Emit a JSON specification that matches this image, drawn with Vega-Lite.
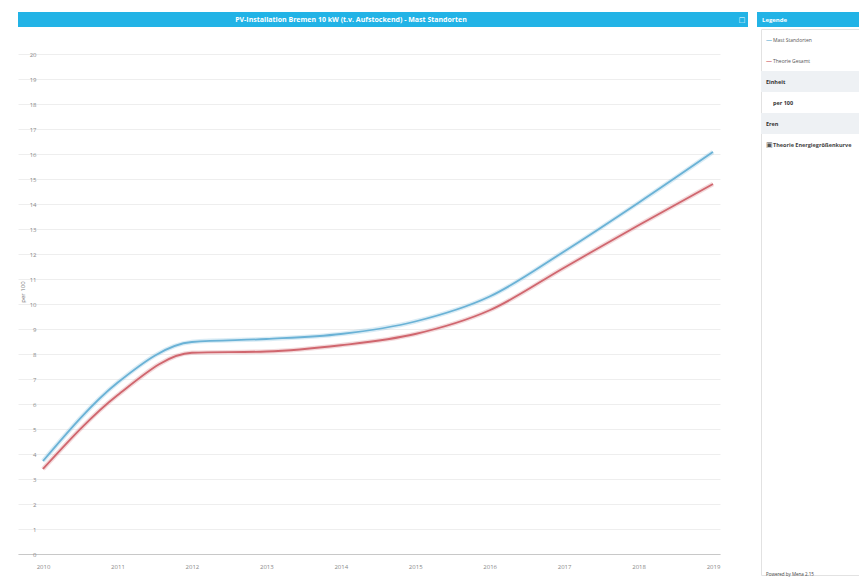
{
  "$schema": "https://vega.github.io/schema/vega-lite/v6.json",
  "padding": {"left": 18, "top": 12, "right": 0, "bottom": 0},
  "background": "white",
  "config": {"font": "Open Sans", "view": {"stroke": null}},
  "datasets": {
    "series": [
      {"year": 2010, "series": "Mast Standorten", "value": 3.72},
      {"year": 2011, "series": "Mast Standorten", "value": 6.85},
      {"year": 2012, "series": "Mast Standorten", "value": 8.48},
      {"year": 2013, "series": "Mast Standorten", "value": 8.6},
      {"year": 2014, "series": "Mast Standorten", "value": 8.8},
      {"year": 2015, "series": "Mast Standorten", "value": 9.3},
      {"year": 2016, "series": "Mast Standorten", "value": 10.3},
      {"year": 2017, "series": "Mast Standorten", "value": 12.1},
      {"year": 2018, "series": "Mast Standorten", "value": 14.05},
      {"year": 2019, "series": "Mast Standorten", "value": 16.08},
      {"year": 2010, "series": "Theorie Gesamt", "value": 3.4},
      {"year": 2011, "series": "Theorie Gesamt", "value": 6.35},
      {"year": 2012, "series": "Theorie Gesamt", "value": 8.05},
      {"year": 2013, "series": "Theorie Gesamt", "value": 8.1},
      {"year": 2014, "series": "Theorie Gesamt", "value": 8.35},
      {"year": 2015, "series": "Theorie Gesamt", "value": 8.8},
      {"year": 2016, "series": "Theorie Gesamt", "value": 9.75},
      {"year": 2017, "series": "Theorie Gesamt", "value": 11.45},
      {"year": 2018, "series": "Theorie Gesamt", "value": 13.15},
      {"year": 2019, "series": "Theorie Gesamt", "value": 14.8}
    ],
    "legendRows": [
      {"row": 1, "kind": "series", "glyph": "—", "label": "Mast Standorten"},
      {"row": 2, "kind": "series", "glyph": "—", "label": "Theorie Gesamt"},
      {"row": 3, "kind": "section", "glyph": "", "label": "Einheit"},
      {"row": 4, "kind": "value", "glyph": "", "label": "per 100"},
      {"row": 5, "kind": "section", "glyph": "", "label": "Eren"},
      {"row": 6, "kind": "check", "glyph": "▣", "label": "Theorie Energiegrößenkurve"},
      {"row": 26, "kind": "foot", "glyph": "", "label": "Powered by Mena 2.15"}
    ]
  },
  "spacing": 1,
  "vconcat": [
    {
      "spacing": 9,
      "hconcat": [
        {
          "width": 730,
          "height": 15,
          "view": {"fill": "#22b3e6", "stroke": null},
          "data": {"values": [{"t": "PV-Installation Bremen 10 kW (t.v. Aufstockend) - Mast Standorten", "i": "□"}]},
          "layer": [
            {
              "mark": {"type": "text", "color": "white", "fontSize": 7, "fontWeight": "bold", "dx": -32},
              "encoding": {"text": {"field": "t"}}
            },
            {
              "mark": {"type": "text", "color": "white", "fontSize": 9, "dx": 359},
              "encoding": {"text": {"field": "i"}}
            }
          ]
        },
        {
          "width": 102,
          "height": 15,
          "view": {"fill": "#22b3e6", "stroke": null},
          "data": {"values": [{"t": "Legende"}]},
          "mark": {"type": "text", "color": "white", "fontSize": 6, "fontWeight": "bold", "align": "left", "dx": -46},
          "encoding": {"text": {"field": "t"}}
        }
      ]
    },
    {
      "spacing": 37,
      "hconcat": [
        {
          "width": 702,
          "height": 525,
          "data": {"name": "series"},
          "encoding": {
            "x": {
              "field": "year",
              "type": "quantitative",
              "scale": {"domain": [2009.6642, 2019.094], "nice": false, "zero": false},
              "axis": {
                "title": null,
                "values": [2010, 2011, 2012, 2013, 2014, 2015, 2016, 2017, 2018, 2019],
                "format": "d",
                "grid": false,
                "domainColor": "#c8c8c8",
                "ticks": false,
                "labelFontSize": 6,
                "labelColor": "#888",
                "labelPadding": 9
              }
            },
            "y": {
              "field": "value",
              "type": "quantitative",
              "scale": {"domain": [0, 21], "nice": false},
              "axis": {
                "title": "per 100",
                "offset": -22,
                "titleFontSize": 6,
                "titleFontWeight": "normal",
                "titleColor": "#777",
                "titlePadding": 4,
                "values": [0, 1, 2, 3, 4, 5, 6, 7, 8, 9, 10, 11, 12, 13, 14, 15, 16, 17, 18, 19, 20],
                "gridColor": "#eeeeee",
                "domain": false,
                "ticks": false,
                "labelFontSize": 6,
                "labelColor": "#888",
                "labelPadding": 4
              }
            },
            "color": {
              "field": "series",
              "type": "nominal",
              "scale": {"domain": ["Mast Standorten", "Theorie Gesamt"], "range": ["#6ab2d6", "#d0666e"]},
              "legend": null
            }
          },
          "layer": [
            {"mark": {"type": "line", "interpolate": "monotone", "strokeWidth": 4.5, "opacity": 0.25}},
            {"mark": {"type": "line", "interpolate": "monotone", "strokeWidth": 1.8}}
          ]
        },
        {
          "width": 102,
          "height": 546,
          "view": {"stroke": "#e2e2e2"},
          "data": {"name": "legendRows"},
          "encoding": {
            "y": {
              "field": "row",
              "type": "ordinal",
              "scale": {"domain": [1, 2, 3, 4, 5, 6, 7, 8, 9, 10, 11, 12, 13, 14, 15, 16, 17, 18, 19, 20, 21, 22, 23, 24, 25, 26], "paddingInner": 0, "paddingOuter": 0},
              "axis": null
            }
          },
          "layer": [
            {
              "transform": [{"filter": "datum.kind === 'section'"}],
              "mark": {"type": "rect", "color": "#eef1f4"}
            },
            {
              "transform": [{"filter": "datum.kind === 'section'"}],
              "mark": {"type": "text", "align": "left", "dx": -46, "fontSize": 5.5, "fontWeight": "bold", "color": "#333"},
              "encoding": {"text": {"field": "label"}}
            },
            {
              "transform": [{"filter": "datum.kind === 'series'"}],
              "mark": {"type": "text", "align": "left", "dx": -46, "fontSize": 6, "fontWeight": "bold"},
              "encoding": {
                "text": {"field": "glyph"},
                "color": {"field": "label", "type": "nominal", "scale": {"domain": ["Mast Standorten", "Theorie Gesamt"], "range": ["#4d8fb8", "#b8525a"]}, "legend": null}
              }
            },
            {
              "transform": [{"filter": "datum.kind === 'series'"}],
              "mark": {"type": "text", "align": "left", "dx": -39, "fontSize": 5, "color": "#555"},
              "encoding": {"text": {"field": "label"}}
            },
            {
              "transform": [{"filter": "datum.kind === 'value'"}],
              "mark": {"type": "text", "align": "left", "dx": -39, "fontSize": 5.5, "fontWeight": "bold", "color": "#333"},
              "encoding": {"text": {"field": "label"}}
            },
            {
              "transform": [{"filter": "datum.kind === 'check'"}],
              "mark": {"type": "text", "align": "left", "dx": -46, "fontSize": 6.5, "color": "#555"},
              "encoding": {"text": {"field": "glyph"}}
            },
            {
              "transform": [{"filter": "datum.kind === 'check'"}],
              "mark": {"type": "text", "align": "left", "dx": -39, "fontSize": 5.5, "fontWeight": "bold", "color": "#444"},
              "encoding": {"text": {"field": "label"}}
            },
            {
              "transform": [{"filter": "datum.kind === 'foot'"}],
              "mark": {"type": "text", "align": "left", "dx": -46, "dy": 10, "fontSize": 4.5, "color": "#444"},
              "encoding": {"text": {"field": "label"}}
            }
          ]
        }
      ]
    }
  ]
}
